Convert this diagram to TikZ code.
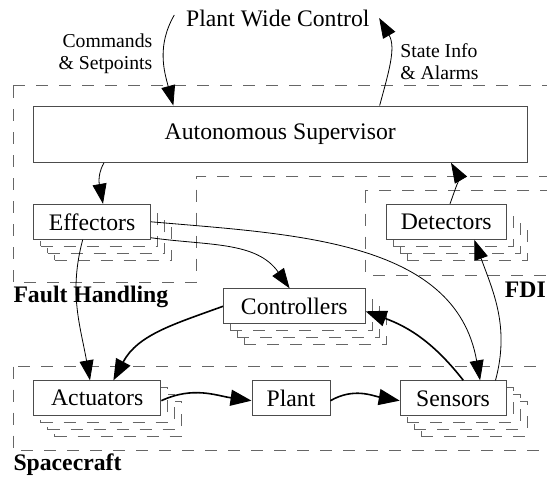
\documentclass[tikz,border=0pt]{standalone}
\usepackage{fontspec}
\setmainfont{Liberation Serif}
\usetikzlibrary{arrows.meta,shadows}

\tikzset{
  box/.style={draw=black!70, line width=0.9pt, fill=white, inner sep=0pt,
    minimum height=35pt, font=\fontsize{23.7}{28}\selectfont},
  stackline/.style={draw=black!60, fill=white, line width=0.9pt,
    dash pattern=on 12pt off 11pt},
  stacked/.style={box,
    copy shadow={shadow xshift=21pt, shadow yshift=-21pt, stackline},
    copy shadow={shadow xshift=14pt, shadow yshift=-14pt, stackline},
    copy shadow={shadow xshift=7pt, shadow yshift=-7pt, stackline}},
  region/.style={draw=black!60, line width=0.9pt, dash pattern=on 12pt off 11pt},
  flow/.style={-{Triangle[length=20pt,width=14pt]}, line width=0.8pt},
  mainflow/.style={-{Triangle[length=21pt,width=16pt]}, line width=1.6pt},
  tag/.style={inner sep=0pt, font=\bfseries\fontsize{23.7}{28}\selectfont},
  note/.style={inner sep=0pt, font=\fontsize{19.7}{21.5}\selectfont}
}

\begin{document}
\begin{tikzpicture}[x=1pt, y=1pt]
    \useasboundingbox (0,0) rectangle (547,478);

    % regions
    \draw[region] (13.3,393) -- (570,393) -- (570,301.3) -- (196.4,301.3)
      -- (196.4,195.7) -- (13.3,195.7) -- cycle;
    \node[tag, anchor=west] (fhlabel) at (13.3,181.3) {Fault Handling};

    \draw[region] (365.3,287.3) rectangle (570,203);
    \node[tag, anchor=east] (fdilabel) at (546,188) {FDI};

    \draw[region] (13.3,111.3) rectangle (570,27.3);
    \node[tag, anchor=west] (sclabel) at (13.3,13) {Spacecraft};

    % plant wide control
    \node[inner sep=0pt, font=\fontsize{23.7}{28}\selectfont] (pwc) at (277.8,460) {Plant Wide Control};
    \node[note, anchor=east, align=right] (cmdlabel) at (152.5,424) {Commands\\\& Setpoints};
    \node[note, anchor=west, align=left] (statelabel) at (400.2,416.5) {State Info\\\& Alarms};

    % supervisor
    \node[box, minimum width=493.5pt, minimum height=56.3pt] (sup) at (280.25,343.8) {Autonomous Supervisor};

    % fault handling and FDI
    \node[stacked, minimum width=117pt] (eff) at (92,256.2) {Effectors};
    \node[stacked, minimum width=119.7pt] (det) at (446.2,256.2) {Detectors};

    % controllers
    \node[stacked, minimum width=141.7pt] (ctl) at (294.3,171.7) {Controllers};

    % spacecraft
    \node[stacked, minimum width=127.4pt] (act) at (97.2,79.7) {Actuators};
    \node[box, minimum width=78pt] (plant) at (291,79.7) {Plant};
    \node[stacked, minimum width=105.8pt] (sen) at (453.1,79.7) {Sensors};

    % outer loop
    \draw[flow] ([xshift=-11.6pt,yshift=3pt]pwc.west) to[out=240,in=105] ([xshift=-106.9pt]sup.north);
    \draw[flow] ([xshift=99.4pt]sup.north) to[out=75,in=-60] ([xshift=9.5pt]pwc.east);

    % supervisor links
    \draw[flow] ([xshift=-176.25pt]sup.south) to[out=240,in=100] ([xshift=11pt]eff.north);
    \draw[flow] ([xshift=3.8pt]det.north) to[out=70,in=-60] ([xshift=170.75pt]sup.south);

    % effector links
    \draw[flow] ([yshift=2pt]eff.south east) to[out=-8,in=125] ([xshift=-4.7pt]ctl.north);
    \draw[flow] (eff.east) to[out=-5,in=100] ([xshift=27pt]sen.north);
    \draw[flow] ([xshift=-9.3pt]eff.south) to[out=255,in=100] ([xshift=-7.2pt]act.north);
    \draw[flow] ([xshift=42.4pt]sen.north) to[out=75,in=-70] ([xshift=28.1pt]det.south);

    % control loop
    \draw[mainflow] (ctl.west) to[out=200,in=62] ([xshift=16.2pt]act.north);
    \draw[mainflow] ([xshift=10.2pt]sen.north) to[out=128,in=-20] ([yshift=-5pt]ctl.east);
    \draw[mainflow] ([yshift=-2.4pt]act.east) to[out=25,in=172] ([yshift=-2.4pt]plant.west);
    \draw[mainflow] ([yshift=-2.4pt]plant.east) to[out=30,in=170] ([yshift=-2.4pt]sen.west);
\end{tikzpicture}
\end{document}
